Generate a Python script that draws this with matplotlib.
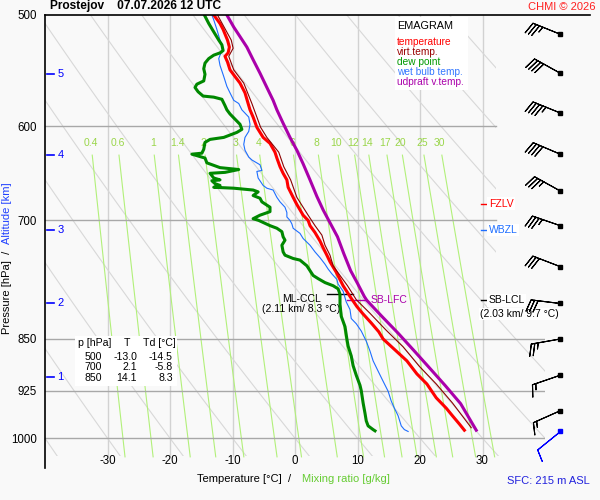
import numpy as np
import matplotlib
matplotlib.use("Agg")
import matplotlib.pyplot as plt
from matplotlib.lines import Line2D
from matplotlib.patches import Polygon, Rectangle
from matplotlib.ticker import NullLocator, NullFormatter

plt.rcParams['font.family'] = ['Liberation Sans', 'DejaVu Sans']

# --- sounding data (pressure hPa, temperature degC) ---
t_p = [500, 507, 512, 521, 527, 532, 535, 540, 547, 553, 559, 568, 578, 584, 591, 601, 611, 617, 626, 632,
       641, 648, 655, 663, 674, 682, 694, 700, 706, 714, 724, 732, 741, 749, 762, 779, 794, 806, 815, 828,
       840, 850, 867, 881, 900, 915, 936, 952, 964, 977, 987]
t_t = [-13.0, -12.0, -11.5, -10.8, -10.5, -10.7, -11.2, -10.8, -10.4, -9.6, -8.8, -8.0, -7.5, -7.2, -6.7, -6.1, -5.1, -4.0, -3.2, -2.9,
       -2.4, -1.9, -1.3, -1.1, -0.3, 0.3, 1.3, 2.1, 2.4, 3.2, 4.0, 4.5, 5.1, 5.6, 6.6, 7.7, 8.9, 9.9, 10.8, 12.2,
       13.4, 14.1, 16.2, 17.9, 19.5, 21.1, 22.6, 24.2, 25.2, 26.3, 27.1]

tv_p = [500, 521, 528, 535, 547, 559, 578, 591, 601, 611, 626, 641, 655, 674, 694, 706, 717, 729, 741, 754,
        766, 779, 797, 815, 838, 861, 889, 915, 944, 983]
tv_t = [-12.4, -10.2, -9.9, -10.6, -9.8, -8.2, -6.9, -6.1, -5.5, -4.5, -2.6, -1.8, -0.7, 0.3, 2.1, 3.2, 4.3, 4.8, 5.6, 6.1,
        7.2, 8.4, 9.8, 12.0, 14.6, 17.3, 19.9, 22.6, 25.2, 28.2]

td_p = [500, 507, 514, 521, 525, 530, 532, 534, 537, 541, 546, 551, 557, 560, 563, 567, 571, 572, 574, 580,
        584, 588, 593, 598, 603, 606, 611, 613, 616, 623, 627, 628, 632, 637, 642, 644, 647, 648, 653, 655,
        656, 659, 661, 663, 664, 666, 668, 672, 675, 679, 685, 690, 694, 698, 700, 706, 709, 713, 719, 723,
        729, 737, 741, 745, 747, 754, 760, 766, 770, 775, 779, 783, 790, 803, 819, 833, 850, 860, 874, 888,
        902, 917, 925, 944, 960, 972, 980, 986, 988]
td_t = [-14.5, -13.8, -13.0, -12.2, -11.7, -11.5, -12.0, -13.0, -13.8, -14.4, -14.6, -14.4, -14.6, -15.7, -16.0, -15.5, -14.7, -13.0, -11.7, -11.2,
        -10.9, -10.4, -9.6, -8.8, -8.5, -9.3, -11.4, -13.6, -14.4, -14.6, -14.9, -16.5, -14.4, -14.1, -12.0, -9.0, -11.2, -13.6, -13.0, -12.0,
        -13.3, -12.8, -12.0, -13.0, -9.8, -6.7, -5.9, -6.7, -5.6, -5.3, -4.0, -4.0, -5.6, -6.7, -5.8, -4.0, -2.9, -2.1, -1.9, -1.6,
        -2.1, -1.9, -1.6, -0.3, 0.8, 1.9, 2.4, 2.9, 3.7, 4.8, 6.1, 6.9, 7.2, 7.2, 7.4, 8.0, 8.3, 8.5, 9.0, 9.3,
        9.8, 10.4, 10.6, 10.9, 11.2, 11.4, 11.7, 12.5, 12.8]

tw_p = [500, 504, 512, 521, 526, 530, 534, 537, 543, 553, 562, 568, 575, 578, 584, 591, 598, 605, 611, 618,
        624, 631, 634, 639, 645, 646, 653, 661, 664, 666, 674, 679, 685, 691, 696, 700, 704, 709, 715, 721,
        729, 737, 744, 752, 758, 764, 771, 777, 786, 800, 810, 822, 829, 839, 853, 867, 881, 896, 911, 926,
        941, 952, 964, 980, 986, 989]
tw_t = [-13.3, -13.0, -12.5, -12.0, -11.7, -11.6, -12.0, -12.2, -12.0, -11.4, -10.9, -10.4, -9.8, -9.0, -8.5, -7.4, -7.2, -7.4, -8.0, -8.2,
        -8.0, -7.4, -6.9, -5.6, -5.3, -6.1, -5.9, -5.1, -4.5, -3.5, -2.9, -2.4, -1.6, -1.3, -1.3, -0.8, -0.5, -0.3, 0.8, 1.3,
        2.4, 3.2, 4.0, 4.8, 5.3, 5.9, 6.7, 6.9, 7.7, 8.2, 8.8, 9.0, 9.8, 10.6, 11.4, 12.0, 12.5, 13.3, 14.1, 14.9,
        15.4, 15.9, 16.5, 17.0, 17.5, 18.1]

up_p = [500, 510, 518, 527, 538, 550, 563, 575, 584, 597, 611, 624, 638, 655, 673, 688, 700, 719, 739, 760,
        776, 793, 798, 820, 842, 866, 889, 917, 945, 987]
up_t = [-10.9, -9.8, -8.8, -7.7, -6.7, -5.6, -4.5, -3.5, -2.9, -1.9, -0.8, 0.3, 1.3, 2.4, 3.5, 4.5, 5.4, 6.8, 7.8, 8.9,
        10.0, 11.1, 11.5, 14.0, 16.5, 19.0, 21.3, 24.0, 26.5, 29.0]

# wind: pressure, direction (deg), speed (kt)
wind_p = [516, 550, 587, 628, 667, 706, 755, 802, 850, 902, 956]
wind_dir = [292, 299, 292, 293, 299, 289, 291, 277, 260, 251, 246]
wind_spd = [35, 40, 45, 40, 35, 35, 30, 30, 25, 15, 15]
sfc_p, sfc_dir, sfc_spd = 988, 231, 10

# altitude scale (km) and pressure levels
alt_km = [1, 2, 3, 4, 5]
alt_p = [905, 802, 711, 629, 551]

p_ticks = [500, 600, 700, 850, 925, 1000]
t_ticks = [-30, -20, -10, 0, 10, 20, 30]
mix_w = [0.4, 0.6, 1, 1.4, 2, 3, 4, 6, 8, 10, 12, 14, 17, 20, 25, 30]
mix_labels = ['0.4', '0.6', '1', '1.4', '2', '3', '4', '6', '8', '10', '12', '14', '17', '20', '25', '30']

table_p = [500, 700, 850]
table_t = [-13.0, 2.1, 14.1]
table_td = [-14.5, -5.8, 8.3]

ccl_p, ccl_t = 790, 8.3
lfc_p, lfc_t = 798, 11.5
lcl_p = 798
fzlv_p = 681
wbzl_p = 711

W, H = 600, 500


def fx(x):
    return x / W


def fy(y):
    return 1 - y / H


fig = plt.figure(figsize=(6, 5), dpi=100, facecolor='#f9f9f9')
ax = fig.add_axes([fx(45), fy(468), fx(545) - fx(45), fy(15) - fy(468)])
ax.set_facecolor('none')
ax.set_yscale('log')
ax.set_ylim(1050, 500)
ax.set_xlim(-40, 40)
for s in ['top', 'right', 'bottom']:
    ax.spines[s].set_visible(False)
ax.spines['left'].set_linewidth(1.2)
ax.yaxis.set_minor_locator(NullLocator())
ax.yaxis.set_minor_formatter(NullFormatter())
ax.set_yticks(p_ticks)
ax.set_yticklabels([str(p) for p in p_ticks])
ax.set_xticks(t_ticks)
ax.set_xticklabels([str(t) for t in t_ticks])
ax.tick_params(axis='y', length=0, pad=6, labelsize=8.3)
ax.tick_params(axis='x', length=0, pad=-9, labelsize=8.3)

# clip region for the background lines
clip = Polygon([(-40, 500), (32.2, 500), (32.2, 815), (40, 815), (40, 1030), (-40, 1030)],
               closed=True, transform=ax.transData, fill=False, visible=False)
ax.add_patch(clip)

# isotherms
for t in t_ticks:
    ax.plot([t, t], [500, 1030], color='#d2d2d2', lw=1, zorder=1)

# dry adiabats
pp = np.geomspace(500, 1030, 120)
for th in range(-40, 110, 10):
    tt = (th + 273.15) * (pp / 1000.0) ** 0.286 - 273.15
    ln, = ax.plot(tt, pp, color='#d8d8d8', lw=0.8, zorder=1)
    ln.set_clip_path(clip)

# mixing ratio lines
pm = np.geomspace(629, 1031, 60)
for w, lab in zip(mix_w, mix_labels):
    e = w * pm / (622.0 + w)
    a = np.log(e / 6.112)
    td = 243.5 * a / (17.67 - a)
    ax.plot(td, pm, color='#b2f07a', lw=0.8, zorder=1)
    e0 = w * 617 / (622.0 + w)
    a0 = np.log(e0 / 6.112)
    ax.text(243.5 * a0 / (17.67 - a0), 617, lab, color='#9ad64a', fontsize=7.5,
            ha='center', va='center', zorder=1)

# isobars
for p, xe in zip([600, 700, 850, 925, 1000], [32.2, 32.2, 40, 40, 40]):
    ax.plot([-40, xe], [p, p], color='#a8a8a8', lw=1, zorder=1)

fig.add_artist(Line2D([fx(45), fx(590)], [fy(15), fy(15)], color='k', lw=1.2))

# altitude scale
for km, p in zip(alt_km, alt_p):
    ax.plot([-39.7, -38.6], [p, p], color='#0000ff', lw=1.2, zorder=3)
    ax.text(-38.0, p, str(km), color='#0000ff', fontsize=8, ha='left', va='center')

# annotations under the curves
ax.plot([ccl_t - 3.2, ccl_t + 1.0], [ccl_p, ccl_p], color='k', lw=1, zorder=2)
ax.text(1.0, ccl_p, 'ML-CCL\n(2.11 km/ 8.3 °C)', fontsize=7.5, ha='center', va='top',
        linespacing=1.0, zorder=2)
ax.plot([lfc_t - 3.2, lfc_t], [lfc_p, lfc_p], color='#aa00aa', lw=1, zorder=2)
ax.text(12.1, lfc_p, 'SB-LFC', color='#aa00aa', fontsize=7.5, ha='left', va='center', zorder=2)

# profiles
ax.plot(tw_t, tw_p, color='#1e6eff', lw=0.8, zorder=4)
ax.plot(td_t, td_p, color='#008800', lw=2.2, zorder=5)
ax.plot(t_t, t_p, color='#ff0000', lw=2.2, zorder=6)
ax.plot(tv_t, tv_p, color='#8b0000', lw=0.8, zorder=7)
ax.plot(up_t, up_p, color='#aa00aa', lw=2.2, zorder=8)

# level markers on the right
bb = dict(fc='white', ec='none', pad=1)
ax.plot([29.8, 30.8], [fzlv_p, fzlv_p], color='#ff0000', lw=1, zorder=9)
ax.text(31.0, fzlv_p, 'FZLV', color='#ff0000', fontsize=7.5, ha='left', va='center', bbox=bb, zorder=9)
ax.plot([29.8, 30.8], [wbzl_p, wbzl_p], color='#1e6eff', lw=1, zorder=9)
ax.text(31.0, wbzl_p, 'WBZL', color='#1e6eff', fontsize=7.5, ha='left', va='center', bbox=bb, zorder=9)
ax.plot([29.8, 30.8], [lcl_p, lcl_p], color='k', lw=1, zorder=9)
ax.text(31.0, lcl_p, 'SB-LCL', fontsize=7.5, ha='left', va='center', bbox=bb, zorder=9)
ax.text(29.6, lcl_p * 1.014, '(2.03 km/ 9.7 °C)', fontsize=7.5, ha='left', va='top', bbox=bb, zorder=9)

# legend box
fig.add_artist(Rectangle((fx(395), fy(90)), fx(468) - fx(395), fy(17) - fy(90), fc='white', ec='none',
                         transform=fig.transFigure))
fig.text(fx(397), fy(26), 'EMAGRAM', fontsize=7.8, va='center')
leg = [('temperature', '#ff0000'), ('virt.temp.', '#990000'), ('dew point', '#009900'),
       ('wet bulb temp.', '#3377ff'), ('udpraft v.temp.', '#aa00aa')]
for i, (lab, c) in enumerate(leg):
    fig.text(fx(397), fy(42 + 10 * i), lab, color=c, fontsize=7.3, va='center')

# value table
fig.add_artist(Rectangle((fx(75), fy(386)), fx(177) - fx(75), fy(336) - fy(386), fc='white', ec='none',
                         transform=fig.transFigure))
fig.text(fx(78), fy(343), 'p [hPa]', fontsize=7.6, va='center')
fig.text(fx(127), fy(343), 'T', fontsize=7.6, va='center', ha='center')
fig.text(fx(143), fy(343), 'Td [°C]', fontsize=7.6, va='center')
for i, (p, t, td) in enumerate(zip(table_p, table_t, table_td)):
    y = 357 + 10.5 * i
    fig.text(fx(102), fy(y), str(p), fontsize=7.6, va='center', ha='right')
    fig.text(fx(137), fy(y), f'{t:.1f}', fontsize=7.6, va='center', ha='right')
    fig.text(fx(173), fy(y), f'{td:.1f}', fontsize=7.6, va='center', ha='right')

# titles and labels
fig.text(fx(50), fy(6), 'Prostejov    07.07.2026 12 UTC', fontsize=8.6, fontweight='bold', va='center')
fig.text(fx(596), fy(7), 'CHMI © 2026', fontsize=8, color='#ff2020', va='center', ha='right')
fig.text(fx(197), fy(479), 'Temperature [°C]  /', fontsize=8, va='center')
fig.text(fx(302), fy(479), 'Mixing ratio [g/kg]', fontsize=8, va='center', color='#66cc33')
fig.text(fx(590), fy(481), 'SFC: 215 m ASL', fontsize=8, va='center', ha='right', color='#2222dd')
fig.text(fx(7), fy(334), 'Pressure [hPa]  /', fontsize=8, rotation=90, rotation_mode='anchor',
         ha='left', va='center')
fig.text(fx(7), fy(244), 'Altitude [km]', fontsize=8, rotation=90, rotation_mode='anchor',
         ha='left', va='center', color='#2040ff')

# wind barbs
bax = fig.add_axes([fx(498), fy(468), fx(600) - fx(498), fy(15) - fy(468)])
bax.set_yscale('log')
bax.set_ylim(1050, 500)
bax.set_xlim(0, 1)
bax.axis('off')
wd = np.radians(wind_dir)
u = -np.array(wind_spd) * np.sin(wd)
v = -np.array(wind_spd) * np.cos(wd)
bx = np.full(len(wind_p), 0.61)
bsizes = dict(spacing=0.12, height=0.4, width=0.25)
bax.barbs(bx, wind_p, u, v, length=6.5, linewidth=0.8, color='k', sizes=bsizes, flip_barb=True)
bax.plot(bx, wind_p, 's', ms=2.5, color='k')
sd = np.radians(sfc_dir)
bax.barbs([0.61], [sfc_p], [-sfc_spd * np.sin(sd)], [-sfc_spd * np.cos(sd)], length=6.5,
          linewidth=0.8, color='#0000ff', sizes=bsizes, flip_barb=True)
bax.plot([0.61], [sfc_p], 's', ms=2.5, color='#0000ff')

fig.savefig('out.png', dpi=100, facecolor=fig.get_facecolor())
